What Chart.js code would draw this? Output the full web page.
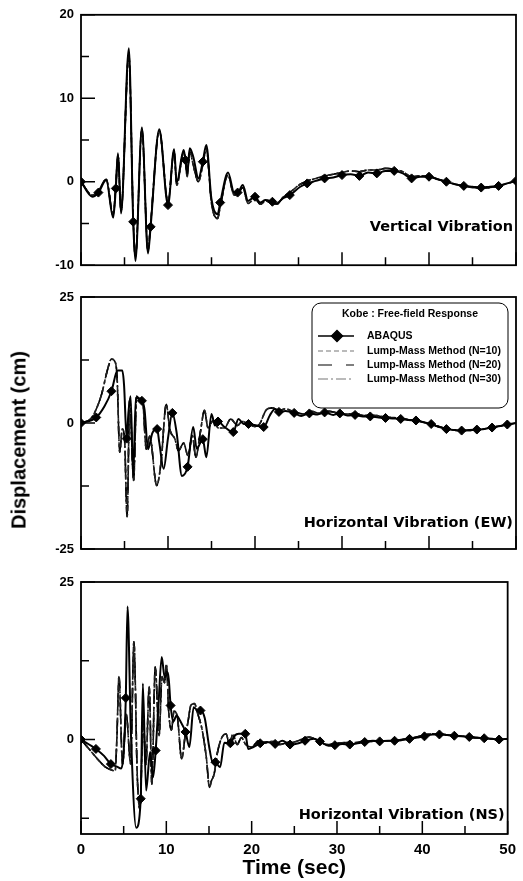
<!DOCTYPE html>
<html>
<head>
<meta charset="utf-8">
<script src="https://cdn.jsdelivr.net/npm/chart.js@4.4.1/dist/chart.umd.min.js"></script>
<style>
    body { margin: 0; background: #fff; }
    #fig { position: relative; width: 523px; height: 881px; }
    canvas { position: absolute; left: 0; }
    #ylab {
        position: absolute; left: 19px; top: 440px;
        transform: translate(-50%, -50%) rotate(-90deg);
        font: bold 20px "Liberation Sans", Arial, sans-serif;
        white-space: nowrap; color: #000;
    }
</style>
</head>
<body>
<div id="fig">
    <canvas id="vert-chart" width="523" height="280" style="top:0px"></canvas>
    <canvas id="ew-chart" width="523" height="284" style="top:280px"></canvas>
    <canvas id="ns-chart" width="523" height="315" style="top:566px"></canvas>
    <div id="ylab">Displacement (cm)</div>
</div>
<script>
// axis ticks (time in sec, displacement in cm)
const timeTicks = [0, 5, 10, 15, 20, 25, 30, 35, 40, 45, 50];
const timeLabels = [0, 10, 20, 30, 40, 50];

const vertTicks = [-10, -5, 0, 5, 10, 15, 20];
const vertLabels = [-10, 0, 10, 20];
const ewTicks = [-25, -12.5, 0, 12.5, 25];
const ewLabels = [-25, 0, 25];
const nsTicks = [-12.5, 0, 12.5, 25];
const nsLabels = [0, 25];

const seriesNames = ['ABAQUS', 'Lump-Mass Method (N=10)', 'Lump-Mass Method (N=20)', 'Lump-Mass Method (N=30)'];
const legendTitle = 'Kobe : Free-field Response';

// vertical vibration (ABAQUS and lump-mass share the time samples)
const vertTime = [0, 1.3, 2, 2.9, 3.7, 4, 4.25, 4.6, 5.5, 6, 6.25, 7, 7.7, 8, 9, 10, 10.7, 11, 11.8, 12,
    12.2, 12.5, 12.9, 13.5, 14, 14.4, 15, 15.7, 16, 16.9, 17.6, 18, 18.6, 19.2, 20, 20.6, 21.2, 22, 22.5, 23.2,
    24, 25.2, 26, 27, 28, 29, 30, 31, 32, 33, 34, 35, 36, 37, 38, 39, 40, 41, 42, 43, 44, 45, 46, 47, 48, 49, 50];
const vertAbaqus = [0, -1.8, -1.3, 0.2, -4.3, -0.8, 3.4, -3.8, 16.0, -4.8, -9.5, 6.5, -8.6, -5.4, 6.3, -2.8, 3.9, -0.1, 3.8, 2.6,
    1.0, 4.0, 3.0, 0.4, 2.4, 4.4, -2.1, -3.9, -2.5, 1.1, -1.3, -1.3, -0.4, -2.3, -1.8, -2.5, -2.2, -2.4, -2.6, -2.0,
    -1.6, -0.6, -0.2, 0.1, 0.4, 0.5, 0.8, 0.9, 0.7, 1.1, 1.0, 1.3, 1.3, 1.0, 0.4, 0.6, 0.6, 0.3, 0.0, -0.3, -0.5, -0.6, -0.7, -0.6, -0.5, -0.2, 0.1];
const vertLump = [0, -1.6, -1.1, 0.3, -4.0, -0.5, 3.2, -3.5, 15.2, -4.2, -9.0, 6.2, -8.2, -5.0, 6.1, -2.4, 3.6, -0.4, 3.5, 2.9,
    0.6, 3.6, 2.0, 0.0, 2.0, 4.0, -2.6, -4.4, -3.0, 0.8, -1.6, -1.5, -0.7, -2.6, -2.0, -2.7, -2.3, -2.6, -2.7, -1.9,
    -1.3, -0.3, 0.1, 0.4, 0.7, 0.9, 1.1, 1.3, 1.2, 1.4, 1.4, 1.6, 1.5, 1.2, 0.6, 0.7, 0.6, 0.3, 0.0, -0.3, -0.5, -0.7, -0.8, -0.7, -0.5, -0.2, 0.1];

// horizontal vibration EW
const ewAbaqusTime = [0, 1.75, 2.7, 3.5, 4.2, 4.75, 4.95, 5.25, 5.45, 5.7, 6.0, 6.3, 7.0, 7.3, 7.7, 8.2, 8.75, 9.0, 9.5, 10.0,
    10.5, 11.0, 11.6, 12.25, 12.9, 13.3, 14.0, 14.4, 15.0, 15.4, 15.75, 16.5, 17.5, 18.1, 18.7, 19.25, 20.2, 21.0, 21.7, 22.3,
    22.75, 23.5, 24.5, 25.3, 26.25, 27.2, 28.0, 29.0, 29.75, 30.6, 31.5, 32.4, 33.25, 34.2, 35.0, 36.0, 36.75, 37.6, 38.5, 39.5,
    40.25, 41.0, 42.0, 43.0, 43.75, 44.6, 45.5, 46.4, 47.25, 48.2, 49.0, 50];
const ewAbaqus = [0, 1.1, 3.3, 6.3, 10.4, 10.4, 7.5, -3.1, 2.0, 5.3, -10.5, 5.0, 4.4, 2.7, -5.2, -2.0, -1.2, -3.9, -9.1, -3.0,
    2.0, -2.0, -10.5, -8.7, -0.8, -5.1, -3.2, -6.8, 1.8, -0.5, 0.3, -0.8, -1.8, 0.8, -0.2, -0.2, -0.5, -0.8, 1.5, 2.8,
    2.2, 2.4, 2.0, 1.4, 1.9, 1.7, 2.1, 1.6, 1.9, 1.5, 1.6, 1.3, 1.3, 1.1, 1.0, 0.9, 0.8, 0.6, 0.5, 0.1,
    -0.2, -0.7, -1.2, -1.4, -1.5, -1.4, -1.3, -1.2, -0.9, -0.6, -0.3, 0.0];
const ewLumpTime = [0, 1.2, 2.3, 3.1, 3.5, 3.95, 4.15, 4.45, 4.75, 5.0, 5.3, 5.6, 6.05, 6.4, 6.75, 7.1, 7.5, 7.9, 8.7, 9.2,
    9.8, 10.2, 10.8, 11.2, 11.8, 12.3, 12.8, 13.2, 13.7, 14.2, 14.6, 15.2, 15.8, 16.5, 17.2, 18.0, 18.5, 19.3, 20.0, 20.5,
    21.3, 22.0, 22.7, 23.5, 24.5, 25.5, 26.5, 27.5, 28.5, 29.5, 30.5, 31.5, 32.5, 33.5, 34.5, 35.5, 36.5, 37.5, 38.5, 39.5,
    40.5, 41.5, 42.5, 43.5, 44.5, 45.5, 46.5, 47.5, 48.5, 49.5, 50];
const ewLump = [0, 1.0, 5.3, 10.9, 12.7, 12.0, 9.0, -5.8, -1.2, -3.0, -18.6, 4.7, -11.4, 5.3, 4.7, 4.0, -5.2, -2.6, -12.4, -7.8,
    3.7, -1.2, -3.2, -5.5, -4.0, -6.5, -2.5, -6.8, -2.0, 2.5, -1.0, 0.5, -1.0, -1.0, 0.8, -0.5, 0.3, -0.2, -0.7, -0.3,
    2.6, 3.0, 2.5, 2.8, 2.2, 1.8, 2.3, 1.9, 2.3, 2.0, 1.8, 1.9, 1.5, 1.6, 1.3, 1.1, 1.0, 0.7, 0.5, 0.1,
    -0.4, -0.9, -1.3, -1.5, -1.5, -1.3, -1.1, -0.8, -0.5, -0.2, 0.0];

// horizontal vibration NS
const nsAbaqusTime = [0, 1.75, 2.7, 3.5, 4.2, 4.7, 5.0, 5.25, 5.45, 5.85, 6.47, 7.0, 7.25, 7.63, 8.1, 8.45, 8.75, 9.1, 9.46, 9.8,
    10.2, 10.5, 10.8, 11.2, 11.6, 12.25, 12.7, 13.2, 13.7, 14.0, 14.5, 15.0, 15.4, 15.75, 16.3, 16.8, 17.5, 18.0, 18.5, 19.25,
    19.6, 20.2, 21.0, 21.8, 22.75, 23.6, 24.5, 25.5, 26.25, 27.3, 28.0, 29.0, 29.75, 30.6, 31.5, 32.4, 33.25, 34.2, 35.0, 36.0,
    36.75, 37.6, 38.5, 39.4, 40.25, 41.2, 42.0, 42.9, 43.75, 44.6, 45.5, 46.4, 47.25, 48.2, 49.0, 50];
const nsAbaqus = [0, -1.5, -2.6, -3.9, -4.3, -4.6, -2.0, 6.6, 21.1, 1.0, -14.0, -9.4, 8.9, -8.1, -2.0, -6.0, -1.75, 6.0, 13.1, 9.9,
    10.6, 5.4, 2.8, 3.8, 3.0, 1.2, -1.2, 5.1, 4.6, 4.6, 3.4, -1.0, -3.5, -3.6, -4.4, -0.5, -0.6, 0.6, 0.9, 0.9,
    -1.5, -1.2, -0.6, -0.4, -0.7, -0.2, -0.8, -0.6, -0.2, 0.1, -0.3, -1.0, -0.9, -0.7, -0.8, -0.6, -0.4, -0.2, -0.3, -0.2,
    -0.2, -0.1, 0.1, 0.3, 0.5, 0.8, 0.8, 0.7, 0.6, 0.5, 0.4, 0.3, 0.2, 0.1, 0.0, 0.1];
const nsLumpTime = [0, 1.0, 2.0, 2.8, 3.5, 4.0, 4.2, 4.45, 4.87, 5.3, 5.82, 6.2, 6.6, 6.9, 7.3, 7.6, 8.0, 8.3, 8.7, 9.15,
    9.5, 9.8, 10.0, 10.3, 10.6, 10.9, 11.3, 11.8, 12.2, 12.5, 12.9, 13.3, 13.7, 14.2, 14.7, 15.05, 15.3, 15.6, 16.0, 16.5,
    17.0, 17.4, 17.8, 18.3, 18.8, 19.3, 20.0, 20.8, 21.5, 22.4, 23.3, 24.2, 25.0, 25.8, 26.6, 27.4, 28.2, 29.0, 30.0, 31.0,
    32.0, 33.0, 34.0, 35.0, 36.5, 38.0, 39.0, 40.0, 41.0, 42.0, 43.0, 44.0, 45.0, 46.0, 47.0, 48.0, 49.0, 50];
const nsLump = [0, -1.6, -3.2, -4.3, -4.8, -5.0, 0.0, 10.0, -3.9, 4.0, -3.9, 15.5, -6.0, -11.0, 3.0, -4.0, 8.4, -7.1, 11.5, 0.6,
    10.0, 9.0, 12.0, 4.0, 1.5, 4.5, 3.5, -3.1, 0.5, 2.5, 5.5, 5.7, 4.0, 1.5, -3.0, -7.6, -6.5, -5.5, -2.0, 0.3,
    0.9, -0.8, 0.9, -0.8, 0.3, -0.8, -1.2, -0.2, -0.6, -0.3, -0.8, -0.5, -0.4, 0.0, 0.4, 0.1, -0.6, -0.8, -0.6, -0.5,
    -0.5, -0.3, -0.3, -0.2, -0.2, 0.1, 0.3, 0.6, 0.9, 0.9, 0.7, 0.6, 0.5, 0.3, 0.2, 0.1, 0.0, 0.1];

Chart.defaults.font.family = '"Liberation Sans", Arial, sans-serif';
Chart.defaults.color = '#000';

// line looks for the three lump-mass runs (they overlap at this scale)
const lumpStyles = [
    { color: '#222', legendColor: '#777', dash: [5, 3] },
    { color: '#000', legendColor: '#000', dash: [14, 14] },
    { color: '#111', legendColor: '#777', dash: [10, 3, 2, 3] },
];

const points = (ts, vs) => ts.map((t, i) => ({ x: t, y: vs[i] }));

const isMark = (t, step) => Math.abs(t / step - Math.round(t / step)) < 1e-6;

function makeFrame(p) {
    return {
        id: 'frame',
        afterDatasetsDraw(chart) {
            const { ctx, chartArea: a, scales: { x, y } } = chart;
            ctx.save();
            ctx.strokeStyle = '#000';
            ctx.lineWidth = 1.5;
            ctx.beginPath();
            timeTicks.forEach(t => {
                const px = x.getPixelForValue(t);
                const len = timeLabels.includes(t) ? 13 : 8;
                ctx.moveTo(px, a.bottom);
                ctx.lineTo(px, a.bottom - len);
            });
            p.ticks.forEach(v => {
                const py = y.getPixelForValue(v);
                const len = p.labels.includes(v) ? 14 : 8;
                ctx.moveTo(a.left, py);
                ctx.lineTo(a.left + len, py);
            });
            ctx.stroke();
            ctx.lineWidth = 1.8;
            ctx.strokeRect(a.left, a.top, a.right - a.left, a.bottom - a.top);

            ctx.font = 'bold 14.5px "DejaVu Sans", sans-serif';
            ctx.textAlign = 'right';
            ctx.textBaseline = 'alphabetic';
            ctx.fillStyle = '#000';
            ctx.fillText(p.title, a.right - 3, a.bottom - p.titleLift);
            ctx.restore();
        }
    };
}

const legendBox = {
    id: 'legendBox',
    afterDraw(chart) {
        const { ctx, chartArea: a } = chart;
        const left = a.right - 204, top = a.top + 6, w = 196, h = 105;
        ctx.save();
        ctx.beginPath();
        ctx.roundRect(left, top, w, h, 9);
        ctx.fillStyle = '#fff';
        ctx.fill();
        ctx.strokeStyle = '#000';
        ctx.lineWidth = 1;
        ctx.stroke();

        ctx.fillStyle = '#000';
        ctx.font = 'bold 10.5px "Liberation Sans", Arial, sans-serif';
        ctx.textAlign = 'center';
        ctx.textBaseline = 'middle';
        ctx.fillText(legendTitle, left + w / 2, top + 11);

        const rows = [33, 48, 62, 76];
        ctx.textAlign = 'left';
        chart.data.datasets.forEach((ds, i) => {
            const yy = top + rows[i];
            ctx.beginPath();
            ctx.setLineDash(ds.borderDash || []);
            ctx.strokeStyle = i === 0 ? '#000' : lumpStyles[i - 1].legendColor;
            ctx.lineWidth = i === 0 ? 1.5 : 1.2;
            ctx.moveTo(left + 6, yy);
            ctx.lineTo(left + 42, yy);
            ctx.stroke();
            ctx.setLineDash([]);
            if (i === 0) {
                ctx.fillStyle = '#000';
                Chart.helpers.drawPoint(ctx, { pointStyle: 'rectRot', radius: 5.5, borderWidth: 1 }, left + 25, yy);
            }
            ctx.fillStyle = '#000';
            ctx.fillText(seriesNames[i], left + 55, yy);
        });
        ctx.restore();
    }
};

function createPanel(id, p) {
    const ctx = document.getElementById(id).getContext('2d');

    const abaqus = {
        label: seriesNames[0],
        data: points(p.abaqusT, p.abaqus),
        borderColor: '#000',
        backgroundColor: '#000',
        borderWidth: 2,
        pointStyle: 'rectRot',
        pointRadius: c => (c.raw && isMark(c.raw.x, p.markStep)) ? 4.5 : 0,
        pointBorderWidth: 1,
        cubicInterpolationMode: 'monotone',
    };
    const lumps = lumpStyles.map((s, i) => ({
        label: seriesNames[i + 1],
        data: points(p.lumpT, p.lump),
        borderColor: s.color,
        borderDash: s.dash,
        borderWidth: 1.6,
        pointRadius: 0,
        cubicInterpolationMode: 'monotone',
    }));

    const bottomAxis = !!p.showTime;

    const options = {
        responsive: false,
        animation: false,
        events: [],
        layout: { padding: { top: p.padTop, bottom: p.padBottom, left: 0, right: 7 } },
        plugins: {
            legend: { display: false },
            tooltip: { enabled: false },
        },
        scales: {
            x: {
                type: 'linear',
                min: 0,
                max: 50,
                display: bottomAxis,
                afterBuildTicks: s => { s.ticks = timeTicks.map(v => ({ value: v })); },
                afterFit: s => { if (bottomAxis) s.height = 47; },
                grid: { display: false, drawTicks: false },
                border: { display: false },
                ticks: {
                    autoSkip: false,
                    maxRotation: 0,
                    padding: 7,
                    color: '#000',
                    font: { size: 15, weight: 'bold' },
                    callback: v => timeLabels.includes(v) ? String(v) : '',
                },
                title: {
                    display: bottomAxis,
                    text: 'Time (sec)',
                    color: '#000',
                    padding: 0,
                    font: { size: 21, weight: 'bold' },
                },
            },
            y: {
                min: p.min,
                max: p.max,
                afterBuildTicks: s => { s.ticks = p.ticks.map(v => ({ value: v })); },
                afterFit: s => { s.width = 81; },
                grid: { display: false, drawTicks: false },
                border: { display: false },
                ticks: {
                    autoSkip: false,
                    padding: 7,
                    color: '#000',
                    font: { size: 13, weight: 'bold' },
                    callback: v => p.labels.includes(v) ? String(v) : '',
                },
            },
        },
    };

    const plugins = [makeFrame(p)];
    if (p.legend) plugins.push(legendBox);

    return new Chart(ctx, {
        type: 'line',
        data: { datasets: [abaqus, ...lumps] },
        options: options,
        plugins: plugins,
    });
}

createPanel('vert-chart', {
    abaqusT: vertTime, abaqus: vertAbaqus, lumpT: vertTime, lump: vertLump, markStep: 2,
    min: -10, max: 20, ticks: vertTicks, labels: vertLabels,
    title: 'Vertical Vibration', titleLift: 34, padTop: 14, padBottom: 14,
});

createPanel('ew-chart', {
    abaqusT: ewAbaqusTime, abaqus: ewAbaqus, lumpT: ewLumpTime, lump: ewLump, markStep: 1.75,
    min: -25, max: 25, ticks: ewTicks, labels: ewLabels,
    title: 'Horizontal Vibration (EW)', titleLift: 22, padTop: 17, padBottom: 15, legend: true,
});

createPanel('ns-chart', {
    abaqusT: nsAbaqusTime, abaqus: nsAbaqus, lumpT: nsLumpTime, lump: nsLump, markStep: 1.75,
    min: -15, max: 25, ticks: nsTicks, labels: nsLabels,
    title: 'Horizontal Vibration (NS)', titleLift: 15, padTop: 16, padBottom: 0, showTime: true,
});
</script>
</body>
</html>
